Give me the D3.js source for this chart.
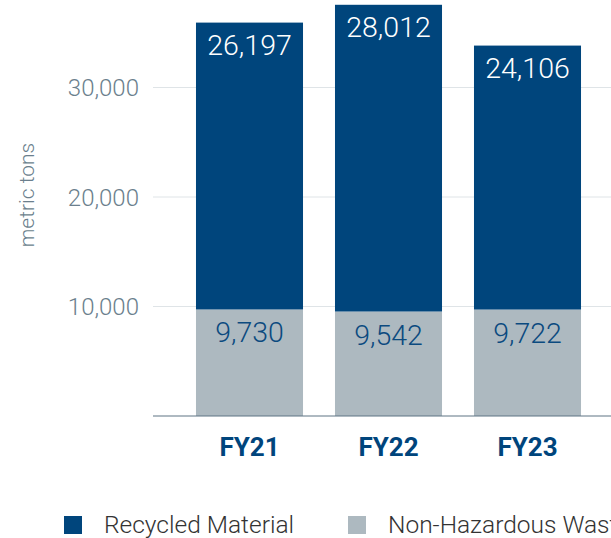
<!DOCTYPE html>
<html lang="en">
<head>
    <meta charset="UTF-8">
    <title>Waste by fiscal year</title>
    <script src="https://d3js.org/d3.v7.min.js"></script>
    <style>
        body { margin: 0; background: #fff; }
        svg { display: block; font-family: Roboto, "Liberation Sans", sans-serif; }
    </style>
</head>
<body>
    <svg id="chart"></svg>
    <script>
        // data
        const years = ["FY21", "FY22", "FY23"];
        const recycled = [26197, 28012, 24106];
        const nonHazardous = [9730, 9542, 9722];
        const yTicks = [10000, 20000, 30000];
        const seriesNames = ["Recycled Material", "Non-Hazardous Waste"];

        const width = 611, height = 538;
        const blue = "#00457c", grey = "#adb9c0";

        const svg = d3.select("#chart").attr("width", width).attr("height", height);

        // band of 139px per year, first centre at 249
        const x = d3.scaleBand()
            .domain(years)
            .range([180, 597])
            .paddingInner(0.23)
            .paddingOuter(0.115);

        const y = d3.scaleLinear()
            .domain([0, 30000])
            .range([416, 87.5]);

        // gridlines
        svg.append("g")
            .selectAll("line")
            .data(yTicks)
            .join("line")
            .attr("x1", 153).attr("x2", width)
            .attr("y1", d => y(d)).attr("y2", d => y(d))
            .attr("stroke", "#dfe4e7").attr("stroke-width", 1);

        // tick labels
        svg.append("g")
            .selectAll("text")
            .data(yTicks)
            .join("text")
            .attr("x", 139)
            .attr("y", d => y(d) + 8.5)
            .attr("text-anchor", "end")
            .attr("fill", "#6b7f8d")
            .attr("font-size", 24)
            .attr("font-weight", 300)
            .text(d => d3.format(",")(d));

        svg.append("text")
            .attr("transform", "translate(34,195) rotate(-90)")
            .attr("text-anchor", "middle")
            .attr("fill", "#6b7f8d")
            .attr("font-size", 21)
            .attr("font-weight", 300)
            .text("metric tons");

        const rows = years.map((yr, i) => ({ yr, rec: recycled[i], non: nonHazardous[i] }));

        const bars = svg.append("g").selectAll("g").data(rows).join("g");

        // grey bottom segment
        bars.append("rect")
            .attr("x", d => x(d.yr))
            .attr("width", x.bandwidth())
            .attr("y", d => y(d.non))
            .attr("height", d => y(0) - y(d.non))
            .attr("fill", grey);

        // blue top segment
        bars.append("rect")
            .attr("x", d => x(d.yr))
            .attr("width", x.bandwidth())
            .attr("y", d => y(d.non + d.rec))
            .attr("height", d => y(d.non) - y(d.non + d.rec))
            .attr("fill", blue);

        bars.append("text")
            .attr("x", d => x(d.yr) + x.bandwidth() / 2)
            .attr("y", d => y(d.non + d.rec) + 32)
            .attr("text-anchor", "middle")
            .attr("fill", "#fff")
            .attr("font-size", 28.5)
            .attr("font-weight", 300)
            .text(d => d3.format(",")(d.rec));

        bars.append("text")
            .attr("x", d => x(d.yr) + x.bandwidth() / 2)
            .attr("y", d => y(d.non) + 33)
            .attr("text-anchor", "middle")
            .attr("fill", "#0b4a7f")
            .attr("font-size", 28.5)
            .attr("font-weight", 300)
            .text(d => d3.format(",")(d.non));

        // baseline
        svg.append("line")
            .attr("x1", 153).attr("x2", width)
            .attr("y1", y(0)).attr("y2", y(0))
            .attr("stroke", "#5f7484").attr("stroke-width", 1.2);

        // category labels
        svg.append("g")
            .selectAll("text")
            .data(years)
            .join("text")
            .attr("x", d => x(d) + x.bandwidth() / 2)
            .attr("y", 456)
            .attr("text-anchor", "middle")
            .attr("fill", blue)
            .attr("font-size", 26)
            .attr("font-weight", 700)
            .text(d => d);

        // legend
        const legend = svg.append("g").selectAll("g")
            .data(seriesNames)
            .join("g")
            .attr("transform", (d, i) => `translate(${64 + i * 284},516)`);

        legend.append("rect")
            .attr("width", 18).attr("height", 18)
            .attr("fill", (d, i) => i === 0 ? blue : grey);

        legend.append("text")
            .attr("x", 40)
            .attr("y", 17)
            .attr("fill", "#333")
            .attr("font-size", 24.5)
            .attr("font-weight", 300)
            .text(d => d);
    </script>
</body>
</html>
